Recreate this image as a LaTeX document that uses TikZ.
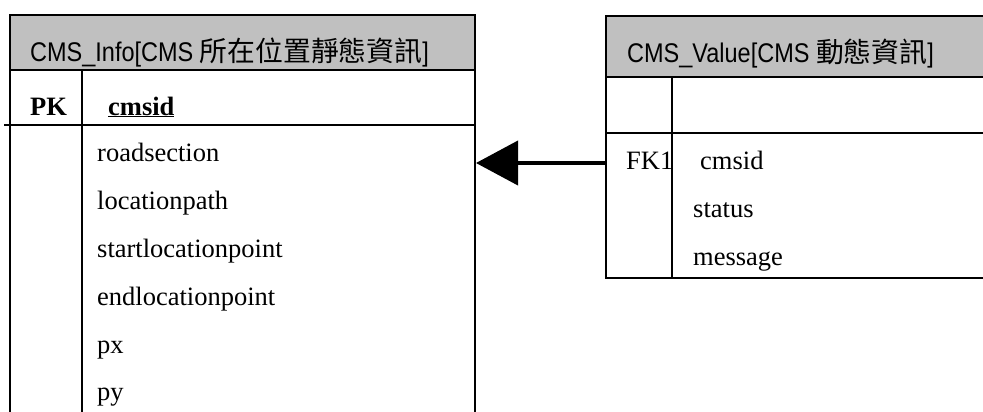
\documentclass[tikz,border=0pt]{standalone}
\usepackage{fontspec}
\setmainfont{Liberation Serif}
\newfontfamily\hdrfont[FakeStretch=0.87]{Liberation Sans}
\newfontfamily\cjkfont[Scale=1.03]{Noto Sans CJK TC}
\usetikzlibrary{arrows.meta}
\definecolor{hdrgray}{RGB}{192,192,192}
\tikzset{
  tline/.style={line width=1.8pt, line cap=rect},
  hdrfill/.style={fill=hdrgray},
  hdrtext/.style={anchor=base west, inner sep=0pt, font=\fontsize{27}{30}\selectfont},
  fieldtext/.style={anchor=base west, inner sep=0pt, font=\fontsize{26.5}{30}\selectfont},
  fkarrow/.style={line width=4pt, -{Triangle[length=42pt,width=44pt]}}
}
\begin{document}
\begin{tikzpicture}[x=1pt,y=-1pt]
\useasboundingbox (0,0) rectangle (983,412);
\clip (0,0) rectangle (983,412);
% ---------- left table ----------
\fill[hdrfill] (10,15) rectangle (475,70);
\draw[tline] (10,420) -- (10,15) -- (475,15) -- (475,420);
\draw[tline] (10,70) -- (475,70);
\draw[tline] (5,125) -- (475,125);
\draw[tline] (82,70) -- (82,420);
\node[hdrtext] (lhead) at (30,62) {{\hdrfont CMS\_Info[CMS }{\cjkfont 所在位置靜態資訊}{\hdrfont ]}};
\node[fieldtext, font=\fontsize{26.5}{30}\selectfont\bfseries] (lpk) at (30,115) {PK};
\node[fieldtext, font=\fontsize{26.5}{30}\selectfont\bfseries] (lid) at (108,115) {\underline{cmsid}};
\node[fieldtext] (f1) at (97,161) {roadsection};
\node[fieldtext] (f2) at (97,209) {locationpath};
\node[fieldtext] (f3) at (97,257) {startlocationpoint};
\node[fieldtext] (f4) at (97,305) {endlocationpoint};
\node[fieldtext] (f5) at (97,353) {px};
\node[fieldtext] (f6) at (97,400) {py};
% ---------- right table ----------
\fill[hdrfill] (606,16) rectangle (990,77);
\draw[tline] (990,16) -- (606,16) -- (606,278) -- (990,278);
\draw[tline] (606,77) -- (990,77);
\draw[line width=2.6pt] (606,133) -- (990,133);
\draw[tline] (672,77) -- (672,278);
\node[hdrtext] (rhead) at (627,63) {{\hdrfont CMS\_Value[CMS }{\cjkfont 動態資訊}{\hdrfont ]}};
\node[fieldtext] (rfk) at (626,169) {FK1};
\node[fieldtext] (r1) at (700,169) {cmsid};
\node[fieldtext] (r2) at (693,217) {status};
\node[fieldtext] (r3) at (693,265) {message};
% ---------- connector ----------
\coordinate (rtL) at (606,163);
\coordinate (ltR) at (476,163);
\draw[fkarrow] (rtL) -- (ltR);
\end{tikzpicture}
\end{document}
